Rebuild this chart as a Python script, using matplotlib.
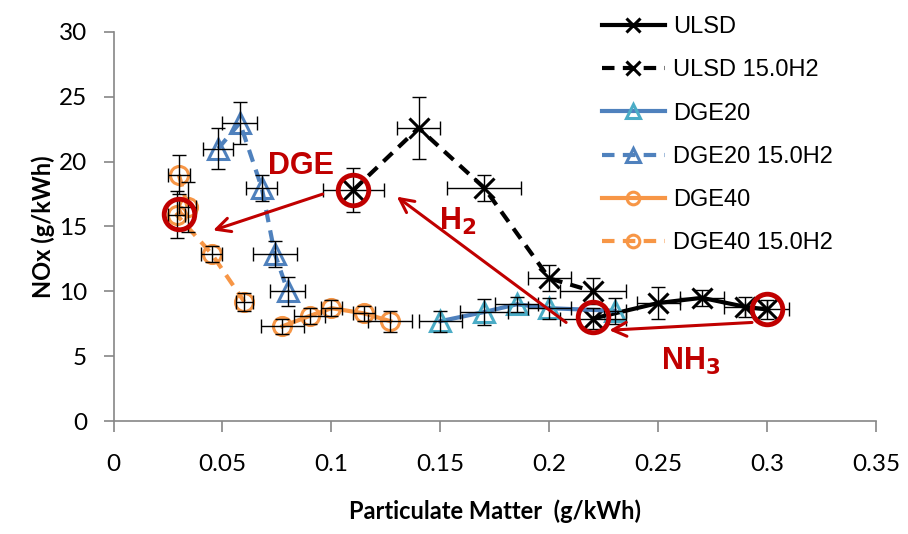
import numpy as np
import matplotlib.pyplot as plt

plt.rcParams["font.family"] = ["Lato", "DejaVu Sans"]

# data (PM g/kWh, NOx g/kWh)
ulsd_x = [0.22, 0.25, 0.27, 0.29, 0.30]
ulsd_y = [7.9, 9.1, 9.5, 8.8, 8.6]
ulsd_xerr = [0.015, 0.01, 0.01, 0.01, 0.01]
ulsd_yerr = [0.8, 1.2, 0.6, 0.8, 0.7]

ulsd_h2_x = [0.11, 0.14, 0.17, 0.20, 0.22]
ulsd_h2_y = [17.8, 22.6, 18.0, 11.0, 10.0]
ulsd_h2_xerr = [0.014, 0.01, 0.017, 0.01, 0.015]
ulsd_h2_yerr = [1.7, 2.4, 1.0, 1.0, 1.0]

dge20_x = [0.15, 0.17, 0.185, 0.20, 0.23]
dge20_y = [7.7, 8.4, 9.0, 8.7, 8.5]
dge20_xerr = [0.01, 0.011, 0.01, 0.01, 0.005]
dge20_yerr = [0.8, 1.0, 0.6, 0.8, 1.0]

dge20_h2_x = [0.048, 0.058, 0.068, 0.074, 0.080]
dge20_h2_y = [21.0, 23.0, 18.0, 12.9, 10.0]
dge20_h2_xerr = [0.007, 0.008, 0.007, 0.01, 0.008]
dge20_h2_yerr = [1.6, 1.6, 1.0, 1.0, 1.1]

dge40_x = [0.0775, 0.09, 0.10, 0.115, 0.127]
dge40_y = [7.3, 8.1, 8.7, 8.3, 7.7]
dge40_xerr = [0.01, 0.007, 0.005, 0.005, 0.01]
dge40_yerr = [0.6, 0.6, 0.6, 0.6, 0.8]

dge40_h2_x = [0.030, 0.034, 0.029, 0.045, 0.060]
dge40_h2_y = [19.0, 16.5, 15.9, 12.9, 9.2]
dge40_h2_xerr = [0.005, 0.004, 0.004, 0.005, 0.004]
dge40_h2_yerr = [1.5, 1.9, 1.8, 0.6, 0.7]

ring_x = [0.03, 0.11, 0.22, 0.30]
ring_y = [16.0, 17.8, 8.0, 8.6]

red = "#C00000"
blue = "#4F81BD"
teal = "#4BACC6"
orange = "#F79646"
dash = (0, (3, 2))

fig = plt.figure(figsize=(9.08, 5.34), dpi=100)
ax = fig.add_axes([0.125, 0.2116, 0.84, 0.7285])

series = [
    (ulsd_x, ulsd_y, ulsd_xerr, ulsd_yerr, "ULSD", "k", "k", "x", "-"),
    (ulsd_h2_x, ulsd_h2_y, ulsd_h2_xerr, ulsd_h2_yerr, "ULSD 15.0H2", "k", "k", "x", dash),
    (dge20_x, dge20_y, dge20_xerr, dge20_yerr, "DGE20", blue, teal, "^", "-"),
    (dge20_h2_x, dge20_h2_y, dge20_h2_xerr, dge20_h2_yerr, "DGE20 15.0H2", blue, blue, "^", dash),
    (dge40_x, dge40_y, dge40_xerr, dge40_yerr, "DGE40", orange, orange, "o", "-"),
    (dge40_h2_x, dge40_h2_y, dge40_h2_xerr, dge40_h2_yerr, "DGE40 15.0H2", orange, orange, "o", dash),
]

handles = []
for x, y, xe, ye, lab, lc, mc, mk, ls in series:
    h, = ax.plot(x, y, color=lc, ls=ls, lw=3, marker=mk, ms=14 if mk != "o" else 13,
                 mec=mc, mfc="none", mew=2.2, label=lab, zorder=3)
    ax.errorbar(x, y, xerr=xe, yerr=ye, fmt="none", ecolor="k", elinewidth=1,
                capsize=5, capthick=1, zorder=4)
    handles.append(h)

# red highlight rings
ax.plot(ring_x, ring_y, ls="none", marker="o", ms=22, mfc="none", mec=red, mew=3.5, zorder=5)

# arrows
arr = dict(arrowstyle="->,head_length=1.0,head_width=0.5", color=red, lw=2.2, shrinkA=0, shrinkB=0)
ax.annotate("", xy=(0.0457, 14.7), xytext=(0.096, 17.5), arrowprops=arr, zorder=6)
ax.annotate("", xy=(0.130, 17.3), xytext=(0.2077, 7.6), arrowprops=arr, zorder=6)
ax.annotate("", xy=(0.2275, 7.0), xytext=(0.293, 7.6), arrowprops=arr, zorder=6)

lbl = dict(color=red, fontsize=22, fontweight="bold", family=["Liberation Sans"],
           ha="center", va="center", zorder=6)
ax.text(0.086, 19.7, "DGE", **lbl)
ax.text(0.158, 15.4, "H$_\\mathbf{2}$", **lbl)
ax.text(0.265, 4.6, "NH$_\\mathbf{3}$", **lbl)

ax.set_xlim(0, 0.35)
ax.set_ylim(0, 30)
ax.set_xticks(np.arange(0, 0.351, 0.05))
ax.set_xticklabels(["0", "0.05", "0.1", "0.15", "0.2", "0.25", "0.3", "0.35"])
ax.set_yticks(range(0, 31, 5))

for s in ["top", "right"]:
    ax.spines[s].set_visible(False)
for s in ["left", "bottom"]:
    ax.spines[s].set_color("#868686")
    ax.spines[s].set_linewidth(1.2)
ax.tick_params(axis="x", direction="out", length=8, width=1.2, color="#868686",
               labelsize=17.5, pad=16)
ax.tick_params(axis="y", direction="out", length=7, width=1.2, color="#868686",
               labelsize=17.5, pad=12)

ax.set_xlabel("Particulate Matter  (g/kWh)", fontsize=17, fontweight="bold", labelpad=17)
ax.set_ylabel("NOx (g/kWh)", fontsize=17, fontweight="bold", labelpad=3)

fig.legend(handles=handles, loc="upper left", bbox_to_anchor=(0.65, 0.992),
           frameon=False, borderpad=0, handlelength=2.65, handletextpad=0.35,
           labelspacing=0.9, markerscale=0.7,
           prop={"family": "Liberation Sans", "size": 17})

fig.savefig("out.png", dpi=100)
